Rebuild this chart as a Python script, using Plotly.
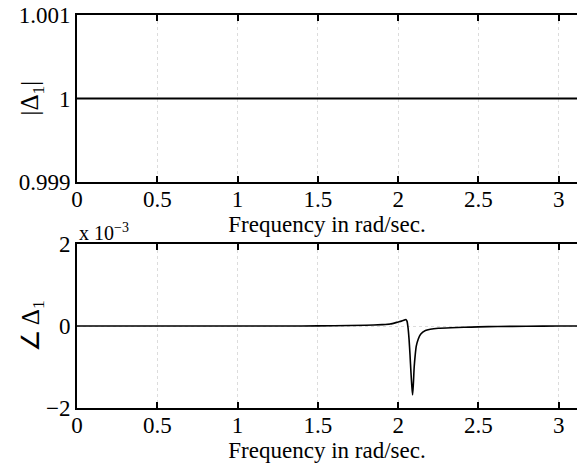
import plotly.graph_objects as go

# Data
freq_mag = [0.0, 0.5, 1.0, 1.5, 2.0, 2.5, 3.0, 3.1416]
mag = [1.0, 1.0, 1.0, 1.0, 1.0, 1.0, 1.0, 1.0]

freq_phase = [0.0, 0.5, 1.0, 1.4, 1.6, 1.8, 1.9, 1.95, 2.0, 2.02, 2.035, 2.048,
              2.055, 2.062, 2.068, 2.074, 2.08, 2.085, 2.09, 2.095, 2.1, 2.106,
              2.113, 2.125, 2.14, 2.17, 2.2, 2.25, 2.33, 2.41, 2.5, 2.62, 2.8,
              3.0, 3.1416]
phase = [0.0, 0.0, 0.0, 0.003e-3, 0.008e-3, 0.02e-3, 0.035e-3, 0.05e-3,
         0.10e-3, 0.12e-3, 0.14e-3, 0.16e-3, 0.12e-3, -0.05e-3, -0.32e-3,
         -0.70e-3, -1.14e-3, -1.45e-3, -1.68e-3, -1.40e-3, -1.00e-3, -0.72e-3,
         -0.49e-3, -0.32e-3, -0.20e-3, -0.11e-3, -0.08e-3, -0.055e-3, -0.04e-3,
         -0.03e-3, -0.02e-3, -0.01e-3, -0.005e-3, 0.0, 0.0]

xticks = [0, 0.5, 1, 1.5, 2, 2.5, 3]
xticklabels = ["0", "0.5", "1", "1.5", "2", "2.5", "3"]
mag_ticks = [0.999, 1.0, 1.001]
mag_ticklabels = ["0.999", "1", "1.001"]
phase_ticks = [-0.002, 0.0, 0.002]
phase_ticklabels = ["\u22122", "0", "2"]

FONT = "Liberation Serif, Times New Roman, serif"
FS = 23

xcommon = dict(range=[0, 3.114], tickvals=xticks, ticktext=xticklabels,
               ticks="inside", ticklen=6, tickwidth=1.5, tickcolor="black",
               showline=True, linecolor="black", linewidth=2, mirror="ticks",
               showgrid=True, gridcolor="#dcdcdc", griddash="dot", gridwidth=1,
               zeroline=False, automargin=False, ticklabelstandoff=-5,
               tickfont=dict(family=FONT, size=FS, color="black"),
               title=dict(text="Frequency in rad/sec.",
                          font=dict(family=FONT, size=FS, color="black"),
                          standoff=0))
ycommon = dict(ticks="", showline=True, linecolor="black", linewidth=2,
               mirror=False, showgrid=True, gridcolor="#dcdcdc", griddash="dot",
               gridwidth=1, zeroline=False, automargin=False,
               tickfont=dict(family=FONT, size=FS, color="black"))

fig = go.Figure()
fig.add_trace(go.Scatter(x=freq_mag, y=mag, mode="lines",
                         line=dict(color="black", width=1.8),
                         xaxis="x", yaxis="y", showlegend=False))
fig.add_trace(go.Scatter(x=freq_phase, y=phase, mode="lines",
                         line=dict(color="black", width=1.6, shape="spline", smoothing=0.6),
                         xaxis="x2", yaxis="y2", showlegend=False))

fig.update_layout(
    width=577, height=464,
    margin=dict(l=77, r=0, t=15, b=56),
    paper_bgcolor="white", plot_bgcolor="white",
    xaxis=dict(domain=[0, 1], anchor="y", **xcommon),
    yaxis=dict(domain=[0.575, 1.0], anchor="x", range=[0.999, 1.001],
               tickvals=mag_ticks, ticktext=mag_ticklabels, **ycommon),
    xaxis2=dict(domain=[0, 1], anchor="y2", **xcommon),
    yaxis2=dict(domain=[0.0, 0.417], anchor="x2", range=[-0.002, 0.002],
                tickvals=phase_ticks, ticktext=phase_ticklabels, **ycommon),
    annotations=[
        dict(text="x 10<sup>\u22123</sup>", xref="paper", yref="paper",
             x=0.0, y=0.417, xanchor="left", yanchor="bottom",
             showarrow=False, yshift=-2,
             font=dict(family=FONT, size=20, color="black")),
        dict(text="|\u0394<sub>1</sub>|", xref="paper", yref="paper",
             x=0.0, y=0.7875, xanchor="center", yanchor="middle",
             xshift=-45, textangle=-90, showarrow=False,
             font=dict(family=FONT, size=25, color="black")),
        dict(text="\u2220 \u0394<sub>1</sub>", xref="paper", yref="paper",
             x=0.0, y=0.2085, xanchor="center", yanchor="middle",
             xshift=-45, textangle=-90, showarrow=False,
             font=dict(family=FONT, size=25, color="black")),
    ],
)

fig.write_html("out.html", config={"displayModeBar": False},
               post_script="document.body.style.margin='0px';")
